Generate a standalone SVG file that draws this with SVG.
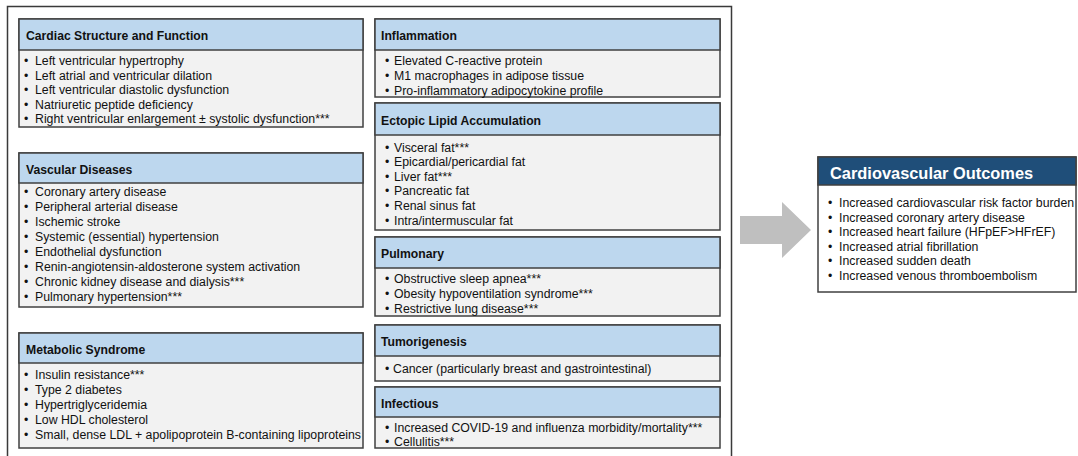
<svg xmlns="http://www.w3.org/2000/svg" width="1078" height="456" viewBox="0 0 1078 456">
<style>
.frame{fill:none;stroke:#3a3a3a;stroke-width:1.5}
.body{fill:#F2F2F2;stroke:#404040;stroke-width:1.5}
.hdr{fill:#BDD7EE;stroke:#404040;stroke-width:1.5}
.ohdr{fill:#1F4E79;stroke:#404040;stroke-width:1.5}
.obody{fill:#FFFFFF;stroke:#404040;stroke-width:1.5}
text{font-family:"Liberation Sans",Arial,sans-serif;fill:#111}
.t{font-size:12.2px;font-weight:bold}
.i{font-size:12.3px}
.ot{font-size:16.4px;font-weight:bold;fill:#FFFFFF}
.arrow{fill:#BFBFBF}
</style>
<rect width="1078" height="456" fill="#FFFFFF"/>
<path class="frame" d="M7.5,460 V6.5 H731.5 V460"/>

<g id="cardiac">
<rect class="body" x="19" y="19" width="344" height="108"/>
<rect class="hdr" x="19" y="19" width="344" height="31"/>
<text class="t" x="26" y="39.5">Cardiac Structure and Function</text>
<text class="i" x="24" y="65">•</text><text class="i" x="35" y="65">Left ventricular hypertrophy</text>
<text class="i" x="24" y="79.5">•</text><text class="i" x="35" y="79.5">Left atrial and ventricular dilation</text>
<text class="i" x="24" y="94">•</text><text class="i" x="35" y="94">Left ventricular diastolic dysfunction</text>
<text class="i" x="24" y="108.5">•</text><text class="i" x="35" y="108.5">Natriuretic peptide deficiency</text>
<text class="i" x="24" y="123">•</text><text class="i" x="35" y="123">Right ventricular enlargement ± systolic dysfunction***</text>
</g>

<g id="vascular">
<rect class="body" x="19" y="153" width="344" height="154"/>
<rect class="hdr" x="19" y="153" width="344" height="30"/>
<text class="t" x="26" y="173.5">Vascular Diseases</text>
<text class="i" x="24" y="195.5">•</text><text class="i" x="35" y="195.5">Coronary artery disease</text>
<text class="i" x="24" y="210.5">•</text><text class="i" x="35" y="210.5">Peripheral arterial disease</text>
<text class="i" x="24" y="225.5">•</text><text class="i" x="35" y="225.5">Ischemic stroke</text>
<text class="i" x="24" y="240.5">•</text><text class="i" x="35" y="240.5">Systemic (essential) hypertension</text>
<text class="i" x="24" y="255.5">•</text><text class="i" x="35" y="255.5">Endothelial dysfunction</text>
<text class="i" x="24" y="270.5">•</text><text class="i" x="35" y="270.5">Renin-angiotensin-aldosterone system activation</text>
<text class="i" x="24" y="285.5">•</text><text class="i" x="35" y="285.5">Chronic kidney disease and dialysis***</text>
<text class="i" x="24" y="300.5">•</text><text class="i" x="35" y="300.5">Pulmonary hypertension***</text>
</g>

<g id="metabolic">
<rect class="body" x="19" y="333" width="344" height="115"/>
<rect class="hdr" x="19" y="333" width="344" height="30"/>
<text class="t" x="26" y="353.5">Metabolic Syndrome</text>
<text class="i" x="24" y="378.5">•</text><text class="i" x="35" y="378.5">Insulin resistance***</text>
<text class="i" x="24" y="393.5">•</text><text class="i" x="35" y="393.5">Type 2 diabetes</text>
<text class="i" x="24" y="408.5">•</text><text class="i" x="35" y="408.5">Hypertriglyceridemia</text>
<text class="i" x="24" y="423.5">•</text><text class="i" x="35" y="423.5">Low HDL cholesterol</text>
<text class="i" x="24" y="438.5">•</text><text class="i" x="35" y="438.5">Small, dense LDL + apolipoprotein B-containing lipoproteins</text>
</g>

<g id="inflammation">
<rect class="body" x="375" y="19" width="345" height="78"/>
<rect class="hdr" x="375" y="19" width="345" height="31"/>
<text class="t" x="381" y="39.5">Inflammation</text>
<text class="i" x="385" y="64.5">•</text><text class="i" x="394" y="64.5">Elevated C-reactive protein</text>
<text class="i" x="385" y="79.5">•</text><text class="i" x="394" y="79.5">M1 macrophages in adipose tissue</text>
<text class="i" x="385" y="94.5">•</text><text class="i" x="394" y="94.5">Pro-inflammatory adipocytokine profile</text>
</g>

<g id="ectopic">
<rect class="body" x="375" y="103" width="345" height="127"/>
<rect class="hdr" x="375" y="103" width="345" height="32"/>
<text class="t" x="381" y="124.5">Ectopic Lipid Accumulation</text>
<text class="i" x="385" y="151.5">•</text><text class="i" x="394" y="151.5">Visceral fat***</text>
<text class="i" x="385" y="166.1">•</text><text class="i" x="394" y="166.1">Epicardial/pericardial fat</text>
<text class="i" x="385" y="180.7">•</text><text class="i" x="394" y="180.7">Liver fat***</text>
<text class="i" x="385" y="195.3">•</text><text class="i" x="394" y="195.3">Pancreatic fat</text>
<text class="i" x="385" y="209.9">•</text><text class="i" x="394" y="209.9">Renal sinus fat</text>
<text class="i" x="385" y="224.5">•</text><text class="i" x="394" y="224.5">Intra/intermuscular fat</text>
</g>

<g id="pulmonary">
<rect class="body" x="375" y="237" width="345" height="79"/>
<rect class="hdr" x="375" y="237" width="345" height="31"/>
<text class="t" x="381" y="257.5">Pulmonary</text>
<text class="i" x="385" y="282.5">•</text><text class="i" x="394" y="282.5">Obstructive sleep apnea***</text>
<text class="i" x="385" y="297.5">•</text><text class="i" x="394" y="297.5">Obesity hypoventilation syndrome***</text>
<text class="i" x="385" y="312.5">•</text><text class="i" x="394" y="312.5">Restrictive lung disease***</text>
</g>

<g id="tumorigenesis">
<rect class="body" x="375" y="325" width="345" height="56"/>
<rect class="hdr" x="375" y="325" width="345" height="31"/>
<text class="t" x="381" y="345.5">Tumorigenesis</text>
<text class="i" x="385" y="372.5">•</text><text class="i" x="393" y="372.5">Cancer (particularly breast and gastrointestinal)</text>
</g>

<g id="infectious">
<rect class="body" x="375" y="387" width="345" height="61"/>
<rect class="hdr" x="375" y="387" width="345" height="30"/>
<text class="t" x="381" y="407.5">Infectious</text>
<text class="i" x="385" y="431.5">•</text><text class="i" x="394" y="431.5">Increased COVID-19 and influenza morbidity/mortality***</text>
<text class="i" x="385" y="445.5">•</text><text class="i" x="394" y="445.5">Cellulitis***</text>
</g>

<g id="connectors">
<polygon class="arrow" points="740,216 782,216 782,202 811,230 782,258 782,244 740,244"/>
</g>

<g id="outcomes">
<rect class="obody" x="818" y="157" width="258" height="135"/>
<rect class="ohdr" x="818" y="157" width="258" height="28"/>
<text class="ot" x="830" y="179">Cardiovascular Outcomes</text>
<text class="i" x="828" y="207">•</text><text class="i" x="839" y="207">Increased cardiovascular risk factor burden</text>
<text class="i" x="828" y="221.6">•</text><text class="i" x="839" y="221.6">Increased coronary artery disease</text>
<text class="i" x="828" y="236.2">•</text><text class="i" x="839" y="236.2">Increased heart failure (HFpEF&gt;HFrEF)</text>
<text class="i" x="828" y="250.8">•</text><text class="i" x="839" y="250.8">Increased atrial fibrillation</text>
<text class="i" x="828" y="265.4">•</text><text class="i" x="839" y="265.4">Increased sudden death</text>
<text class="i" x="828" y="280">•</text><text class="i" x="839" y="280">Increased venous thromboembolism</text>
</g>
</svg>
